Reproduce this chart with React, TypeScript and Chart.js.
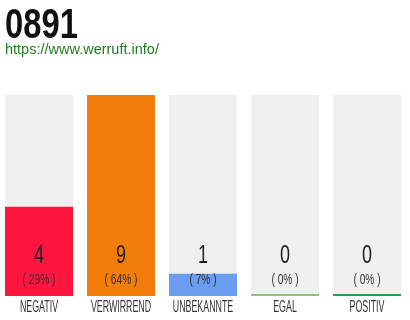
import React, { useEffect, useRef } from "react";
import { Chart, registerables } from "chart.js";

Chart.register(...registerables);

const title = "0891";
const subtitle = "https://www.werruft.info/";
const categories = ["NEGATIV", "VERWIRREND", "UNBEKANNTE", "EGAL", "POSITIV"];
const values = [4, 9, 1, 0, 0];
const maxValue = 9;
const barColors = ["#ff153d", "#f27d0b", "#6a9cef", "#8cc46c", "#22a24c"];
const trackColor = "#efefef";

const SHIFT = 2;

function drawCondensed(
  ctx: CanvasRenderingContext2D,
  text: string,
  x: number,
  y: number,
  font: string,
  color: string,
  sx: number,
  align: "left" | "center"
) {
  ctx.save();
  ctx.font = font;
  ctx.fillStyle = color;
  ctx.textBaseline = "alphabetic";
  ctx.textAlign = "left";
  const w = ctx.measureText(text).width * sx;
  const left = align === "center" ? x - w / 2 : x;
  ctx.translate(left, y);
  ctx.scale(sx, 1);
  ctx.fillText(text, 0, 0);
  ctx.restore();
}

const textPlugin = {
  id: "textPlugin",
  afterDraw(chart: any) {
    const ctx = chart.ctx as CanvasRenderingContext2D;
    const xScale = chart.scales.x;
    const total = values.reduce((a, b) => a + b, 0);
    drawCondensed(ctx, title, 5 + SHIFT, 38, "bold 42px 'Liberation Sans'", "#111111", 0.78, "left");
    drawCondensed(ctx, subtitle, 5 + SHIFT, 54, "14.5px 'Liberation Sans'", "#1e7b1e", 1, "left");
    categories.forEach((c, i) => {
      const x = xScale.getPixelForValue(i);
      const pct = total ? Math.round((values[i] / total) * 100) : 0;
      drawCondensed(ctx, String(values[i]), x, 263, "26.5px 'Liberation Sans'", "#222222", 0.68, "center");
      drawCondensed(ctx, "( " + pct + "% )", x, 284, "15px 'Liberation Sans'", "#333333", 0.68, "center");
      drawCondensed(ctx, c, x, 312, "17px 'Liberation Sans'", "#333333", 0.52, "center");
    });
  },
};

export default function App() {
  const ref = useRef<HTMLCanvasElement | null>(null);
  useEffect(() => {
    document.body.style.margin = "0";
    if (!ref.current) return;
    const chart = new Chart(ref.current, {
      type: "bar",
      data: {
        labels: categories,
        datasets: [
          {
            data: values,
            backgroundColor: barColors,
            grouped: false,
            minBarLength: 2,
            categoryPercentage: 1,
            barPercentage: 68 / 82,
          },
          {
            data: categories.map(() => maxValue),
            backgroundColor: trackColor,
            grouped: false,
            categoryPercentage: 1,
            barPercentage: 68 / 82,
          },
        ],
      },
      options: {
        animation: false,
        responsive: false,
        layout: { padding: { left: 0, right: 0, top: 95, bottom: 24 } },
        plugins: { legend: { display: false }, tooltip: { enabled: false }, title: { display: false } },
        scales: {
          x: { display: false },
          y: { display: false, min: 0, max: maxValue },
        },
      },
      plugins: [textPlugin],
    });
    return () => chart.destroy();
  }, []);
  return (
    <div style={{ width: 410, height: 320, overflow: "hidden" }}>
      <canvas ref={ref} width={410} height={320} style={{ display: "block", marginLeft: -SHIFT }} />
    </div>
  );
}
